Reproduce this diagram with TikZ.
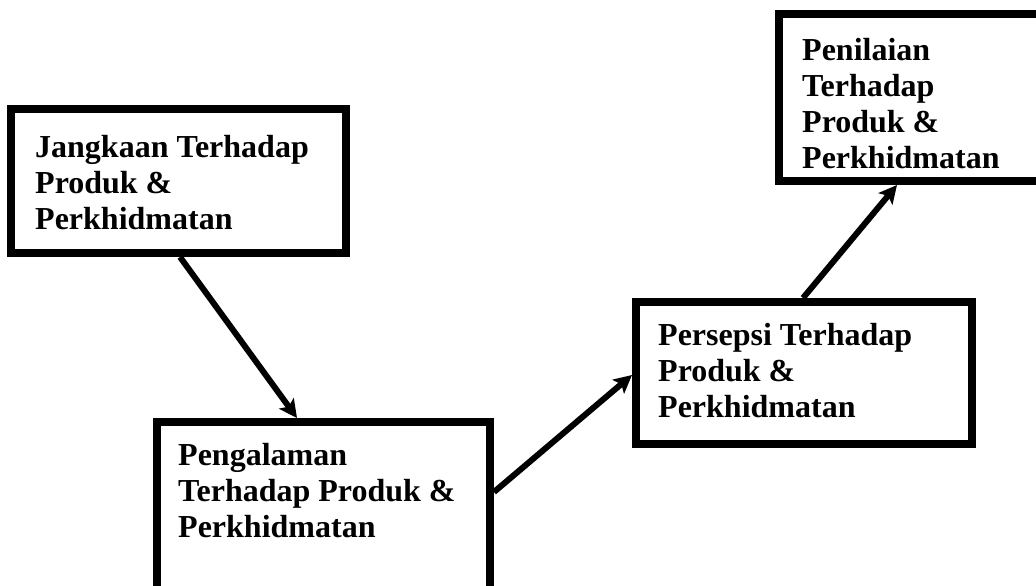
\documentclass[tikz,border=0pt]{standalone}
\usepackage{fontspec}
\setmainfont{Liberation Serif}
\usetikzlibrary{arrows.meta}
\tikzset{
  box/.style={draw, rectangle, line width=8pt, inner sep=0pt},
  txt/.style={anchor=north west, inner sep=0pt, align=left,
    font=\fontsize{32}{36}\selectfont\bfseries},
  arrow/.style={-{Stealth[length=18pt,width=18pt,inset=4pt]}, line width=6pt}
}
\begin{document}
\begin{tikzpicture}[x=1pt,y=-1pt]
  \clip (0,0) rectangle (1036,586);
  \def \Boxes{
    j/178.5/181/335/144,
    p/323.5/521/333/198,
    s/804/373/336/142,
    n/929.5/97.5/301/167}
  \foreach \id / \x / \y / \w / \h in \Boxes{
    \node[box, minimum width=\w pt, minimum height=\h pt] (\id) at (\x, \y) {};
  }
  \node[txt] (jt) at ([shift={(28pt,-30pt)}]j.north west) {Jangkaan Terhadap\\Produk \&\\Perkhidmatan};
  \node[txt] (pt) at ([shift={(25pt,-25pt)}]p.north west) {Pengalaman\\Terhadap Produk \&\\Perkhidmatan};
  \node[txt] (st) at ([shift={(26pt,-25pt)}]s.north west) {Persepsi Terhadap\\Produk \&\\Perkhidmatan};
  \node[txt] (nt) at ([shift={(27pt,-28pt)}]n.north west) {Penilaian\\Terhadap\\Produk \&\\Perkhidmatan};
  \draw[arrow] ([xshift=173pt]j.south west) -- ([xshift=144pt]p.north west);
  \draw[arrow] ([yshift=-74pt]p.north east) -- ([yshift=-77pt]s.north west);
  \draw[arrow] ([xshift=171pt]s.north west) -- ([xshift=122pt]n.south west);
\end{tikzpicture}
\end{document}
